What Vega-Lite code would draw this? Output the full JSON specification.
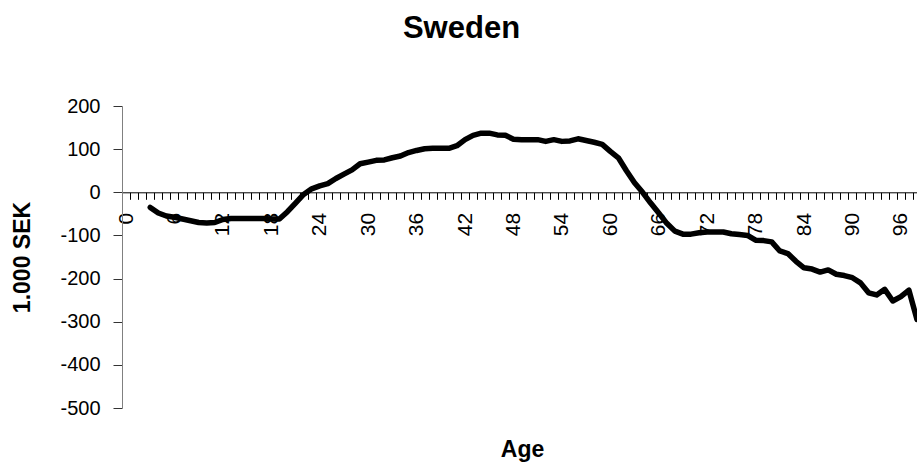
{
  "$schema": "https://vega.github.io/schema/vega-lite/v6.json",
  "width": 795,
  "height": 302,
  "autosize": {"type": "none"},
  "padding": {"left": 122, "top": 106, "right": 0, "bottom": 58},
  "background": "white",
  "title": {
    "text": "Sweden",
    "font": "Liberation Sans",
    "fontSize": 31,
    "fontWeight": "bold",
    "color": "black",
    "anchor": "middle",
    "frame": "group",
    "baseline": "alphabetic",
    "offset": 27,
    "dx": -58
  },
  "config": {
    "view": {"stroke": null},
    "font": "Liberation Sans"
  },
  "data": {
    "values": [
      {"age": 3, "value": -35}, {"age": 4, "value": -48}, {"age": 5, "value": -55}, {"age": 6, "value": -58},
      {"age": 7, "value": -62}, {"age": 8, "value": -66}, {"age": 9, "value": -70}, {"age": 10, "value": -71},
      {"age": 11, "value": -70}, {"age": 12, "value": -63}, {"age": 13, "value": -61}, {"age": 14, "value": -61},
      {"age": 15, "value": -61}, {"age": 16, "value": -61}, {"age": 17, "value": -61}, {"age": 18, "value": -62},
      {"age": 19, "value": -62}, {"age": 20, "value": -45}, {"age": 21, "value": -25}, {"age": 22, "value": -5},
      {"age": 23, "value": 8}, {"age": 24, "value": 15}, {"age": 25, "value": 20}, {"age": 26, "value": 32},
      {"age": 27, "value": 42}, {"age": 28, "value": 52}, {"age": 29, "value": 66}, {"age": 30, "value": 70},
      {"age": 31, "value": 74}, {"age": 32, "value": 75}, {"age": 33, "value": 80}, {"age": 34, "value": 84},
      {"age": 35, "value": 92}, {"age": 36, "value": 97}, {"age": 37, "value": 101}, {"age": 38, "value": 102},
      {"age": 39, "value": 102}, {"age": 40, "value": 102}, {"age": 41, "value": 108}, {"age": 42, "value": 122},
      {"age": 43, "value": 132}, {"age": 44, "value": 137}, {"age": 45, "value": 137}, {"age": 46, "value": 133},
      {"age": 47, "value": 132}, {"age": 48, "value": 123}, {"age": 49, "value": 122}, {"age": 50, "value": 122},
      {"age": 51, "value": 122}, {"age": 52, "value": 118}, {"age": 53, "value": 122}, {"age": 54, "value": 118},
      {"age": 55, "value": 119}, {"age": 56, "value": 124}, {"age": 57, "value": 120}, {"age": 58, "value": 116},
      {"age": 59, "value": 111}, {"age": 60, "value": 95}, {"age": 61, "value": 80}, {"age": 62, "value": 50},
      {"age": 63, "value": 22}, {"age": 64, "value": 0}, {"age": 65, "value": -25}, {"age": 66, "value": -48},
      {"age": 67, "value": -72}, {"age": 68, "value": -90}, {"age": 69, "value": -97}, {"age": 70, "value": -97},
      {"age": 71, "value": -94}, {"age": 72, "value": -92}, {"age": 73, "value": -92}, {"age": 74, "value": -92},
      {"age": 75, "value": -96}, {"age": 76, "value": -98}, {"age": 77, "value": -100}, {"age": 78, "value": -111},
      {"age": 79, "value": -112}, {"age": 80, "value": -115}, {"age": 81, "value": -136}, {"age": 82, "value": -142},
      {"age": 83, "value": -160}, {"age": 84, "value": -175}, {"age": 85, "value": -178}, {"age": 86, "value": -185},
      {"age": 87, "value": -180}, {"age": 88, "value": -190}, {"age": 89, "value": -193}, {"age": 90, "value": -198},
      {"age": 91, "value": -210}, {"age": 92, "value": -233}, {"age": 93, "value": -238}, {"age": 94, "value": -225},
      {"age": 95, "value": -252}, {"age": 96, "value": -242}, {"age": 97, "value": -227}, {"age": 98, "value": -295}
    ]
  },
  "mark": {"type": "line", "color": "black", "strokeWidth": 5.5, "strokeJoin": "round", "strokeCap": "round"},
  "encoding": {
    "x": {
      "field": "age",
      "type": "quantitative",
      "scale": {"domain": [-0.5, 98], "nice": false, "zero": false},
      "axis": {
        "orient": "bottom",
        "offset": -215.7,
        "tickCount": 99,
        "grid": false,
        "domainColor": "black",
        "domainWidth": 1,
        "tickColor": "black",
        "tickWidth": 1,
        "tickSize": 7,
        "tickOffset": -4.035,
        "labelOffset": 4.035,
        "labelAngle": 270,
        "labelAlign": "right",
        "labelBaseline": "middle",
        "labelPadding": 13,
        "labelFont": "Liberation Sans",
        "labelFontSize": 21,
        "labelColor": "black",
        "labelOverlap": false,
        "labelFlush": false,
        "labelBound": false,
        "labelExpr": "datum.value % 6 === 0 ? datum.label : ''",
        "title": "Age",
        "titleFont": "Liberation Sans",
        "titleFontSize": 23,
        "titleFontWeight": "bold",
        "titleColor": "black",
        "titleX": 400,
        "titleY": 264,
        "titleAlign": "center",
        "titleBaseline": "alphabetic",
        "titleAnchor": null
      }
    },
    "y": {
      "field": "value",
      "type": "quantitative",
      "scale": {"domain": [-500, 200], "nice": false, "zero": false},
      "axis": {
        "values": [200, 100, 0, -100, -200, -300, -400, -500],
        "grid": false,
        "domainColor": "#808080",
        "domainWidth": 1,
        "tickColor": "#333333",
        "tickWidth": 1,
        "tickSize": 9,
        "labelPadding": 13,
        "labelFont": "Liberation Sans",
        "labelFontSize": 20,
        "labelColor": "black",
        "labelFlush": false,
        "labelOverlap": false,
        "labelBound": false,
        "labelExpr": "'' + datum.value",
        "title": "1.000 SEK",
        "titleFont": "Liberation Sans",
        "titleFontSize": 23,
        "titleFontWeight": "bold",
        "titleColor": "black",
        "titleAngle": 270,
        "titleX": -93,
        "titleY": 151,
        "titleAlign": "center",
        "titleBaseline": "alphabetic"
      }
    }
  }
}
